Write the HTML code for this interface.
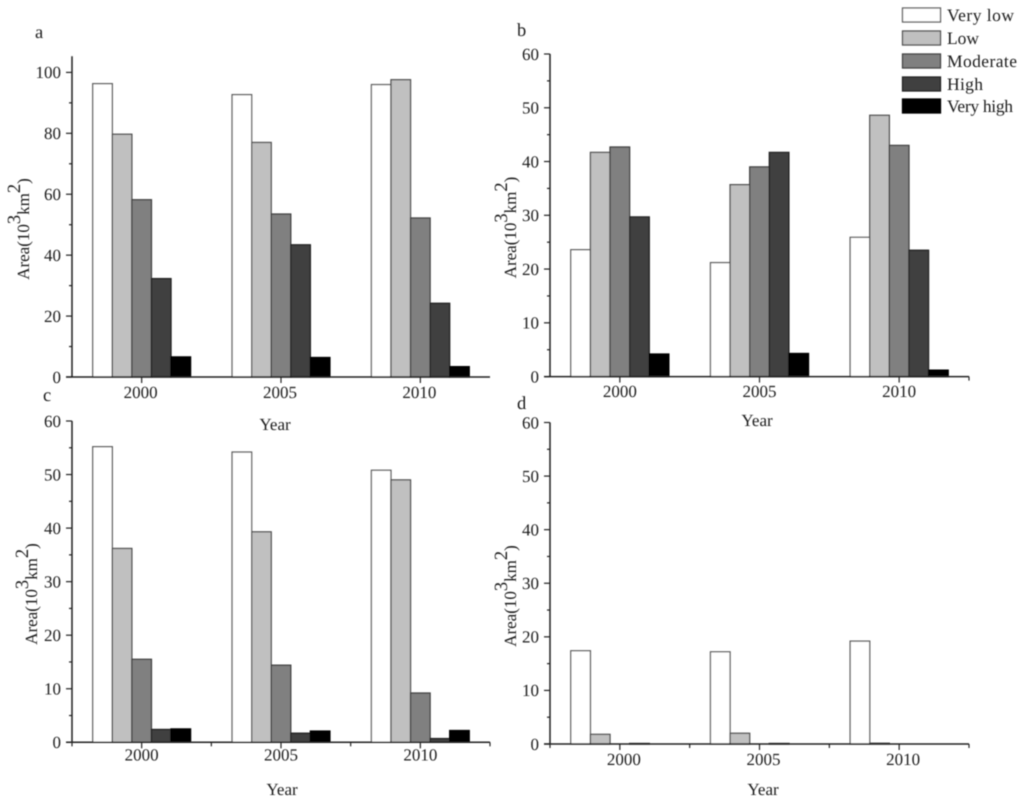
<!DOCTYPE html>
<html>
<head>
<meta charset="utf-8">
<style>
html,body{margin:0;padding:0;background:#fff;}
svg{display:block;}
text{font-family:"Liberation Serif",serif;fill:#1f1f1f;text-rendering:geometricPrecision;}
</style>
</head>
<body>
<svg id="chart" width="1024" height="806" viewBox="0 0 1024 806" xmlns="http://www.w3.org/2000/svg">
<defs><filter id="soft" x="0" y="0" width="100%" height="100%"><feGaussianBlur stdDeviation="0.45"/></filter></defs>
<g id="root" filter="url(#soft)"></g>
</svg>
<script>
const categories = ["2000", "2005", "2010"];
const seriesNames = ["Very low", "Low", "Moderate", "High", "Very high"];

const panelAValues = [
  [96.3, 92.7, 96.0],
  [79.7, 77.0, 97.6],
  [58.2, 53.5, 52.2],
  [32.3, 43.4, 24.2],
  [6.6, 6.4, 3.4]
];
const panelBValues = [
  [23.6, 21.2, 25.9],
  [41.7, 35.7, 48.6],
  [42.7, 39.0, 43.0],
  [29.7, 41.7, 23.5],
  [4.2, 4.3, 1.2]
];
const panelCValues = [
  [55.2, 54.2, 50.8],
  [36.2, 39.3, 49.0],
  [15.5, 14.4, 9.2],
  [2.4, 1.7, 0.7],
  [2.5, 2.1, 2.2]
];
const panelDValues = [
  [17.4, 17.2, 19.2],
  [1.8, 2.0, 0.15],
  [0, 0, 0],
  [0.1, 0.1, 0],
  [0, 0, 0]
];
const ticksA = [0, 20, 40, 60, 80, 100];
const ticksOther = [0, 10, 20, 30, 40, 50, 60];

const fills = ["#ffffff", "#c0c0c0", "#808080", "#404040", "#000000"];
const edges = ["#5e5e5e", "#505050", "#404040", "#222222", "#000000"];

const panels = [
  {id:"a", values:panelAValues, ticks:ticksA, minorStep:10, axisMax:105.3, refMax:100, x0:72, x1:490, y0:377, yRef:72.4,
   lx:35, ly:38, tickLabelRight:61, catDy:21, catShift:-1, yearX:275, yearY:430, titleX:29, titleY:229, xMinor:[]},
  {id:"b", values:panelBValues, ticks:ticksOther, minorStep:5, axisMax:60, refMax:60, x0:550, x1:969, y0:376.6, yRef:54,
   lx:517, ly:36, tickLabelRight:539, catDy:20.5, catShift:0, yearX:757, yearY:426, titleX:516, titleY:227.5, xMinor:[3]},
  {id:"c", values:panelCValues, ticks:ticksOther, minorStep:5, axisMax:60, refMax:60, x0:72, x1:490, y0:742.3, yRef:421,
   lx:43, ly:401, tickLabelRight:61, catDy:18, catShift:0, yearX:282, yearY:795, titleX:37, titleY:594, xMinor:[0,1,2,3]},
  {id:"d", values:panelDValues, ticks:ticksOther, minorStep:5, axisMax:60, refMax:60, x0:550, x1:969, y0:744, yRef:422.5,
   lx:517, ly:409, tickLabelRight:539, catDy:21, catShift:4, yearX:763, yearY:795, titleX:516, titleY:596, xMinor:[0,1,2,3]}
];

const NS = "http://www.w3.org/2000/svg";
const root = document.getElementById("root");

function make(tag, attrs, parent) {
  const el = document.createElementNS(NS, tag);
  for (const k in attrs) el.setAttribute(k, attrs[k]);
  parent.appendChild(el);
  return el;
}

function drawPanel(p) {
  const group = make("g", {}, root);
  
  

  const yScale = v => p.y0 - v * (p.y0 - p.yRef) / p.refMax;
  const slot = (p.x1 - p.x0) / categories.length;
  const barW = slot / 7.12;
  const catX = i => p.x0 + slot * (i + 0.5);

  // bars
  p.values.forEach((vals, s) => {
    vals.forEach((v, c) => {
      const top = yScale(v);
      const left = catX(c) + (s - 2.5) * barW;
      if (v <= 0) return;
      const bar = make("rect", {x:left, y:top, width:barW, height:p.y0 - top,
        fill:fills[s], stroke:edges[s], "stroke-width":1.3}, group);
      
      
    });
  });

  // axes
  const yAxis = make("line", {x1:p.x0, x2:p.x0, y1:yScale(p.axisMax), y2:p.y0, stroke:"#222", "stroke-width":1.5}, group);
  
  
  const xAxis = make("line", {x1:p.x0 - 6, x2:p.x1, y1:p.y0, y2:p.y0, stroke:"#222", "stroke-width":1.5}, group);
  
  

  // y ticks
  p.ticks.forEach(t => {
    const y = yScale(t);
    const tick = make("line", {x1:p.x0 - 6, x2:p.x0, y1:y, y2:y, stroke:"#222", "stroke-width":1.2}, group);
    
    
    const label = make("text", {x:p.tickLabelRight, y:y + 5.8, "text-anchor":"end", "font-size":17}, group);
    label.textContent = t;
    
    
    const mid = t + p.minorStep;
    if (mid < p.axisMax && t !== p.ticks[p.ticks.length - 1]) {
      const my = yScale(mid);
      const minor = make("line", {x1:p.x0 - 3, x2:p.x0, y1:my, y2:my, stroke:"#222", "stroke-width":1.2}, group);
      
      
    }
  });

  // x ticks
  categories.forEach((cat, i) => {
    const x = catX(i);
    const tick = make("line", {x1:x, x2:x, y1:p.y0, y2:p.y0 + 6, stroke:"#222", "stroke-width":1.2}, group);
    
    
    const label = make("text", {x:x + p.catShift, y:p.y0 + p.catDy, "text-anchor":"middle", "font-size":17}, group);
    label.textContent = cat;
    
    
  });
  p.xMinor.forEach(i => {
    const x = p.x0 + slot * i;
    const minor = make("line", {x1:x, x2:x, y1:p.y0, y2:p.y0 + 4, stroke:"#222", "stroke-width":1.2}, group);
    
    
  });

  // labels
  const letter = make("text", {x:p.lx, y:p.ly, "font-size":18.5}, group);
  letter.textContent = p.id;
  
  

  const year = make("text", {x:p.yearX, y:p.yearY, "text-anchor":"middle", "font-size":17}, group);
  year.textContent = "Year";
  
  

  const title = make("text", {transform:"translate(" + p.titleX + "," + p.titleY + ") rotate(-90)", "text-anchor":"middle", "font-size":17}, group);
  
  
  const parts = [["Area(10",0,17],["3",-9,18.5],["km",9,17],["2",-9,18.5],[")",9,17]];
  parts.forEach(part => {
    const span = make("tspan", {dy:part[1], "font-size":part[2]}, title);
    span.textContent = part[0];
  });
}

panels.forEach(drawPanel);

// legend
const legend = make("g", {}, root);


const legendTops = [8, 31, 54, 77, 99];
const legendBase = [21, 44, 67, 90, 112];
const legendWidths = [67, 32, 70, 36, 66];
seriesNames.forEach((name, i) => {
  const swatch = make("rect", {x:902.5, y:legendTops[i], width:38, height:14, fill:fills[i], stroke:edges[i], "stroke-width":1.3}, legend);
  
  
  const label = make("text", {x:947, y:legendBase[i], "font-size":17.5, textLength:legendWidths[i], lengthAdjust:"spacing"}, legend);
  label.textContent = name;
  
  
});
</script>
</body>
</html>
